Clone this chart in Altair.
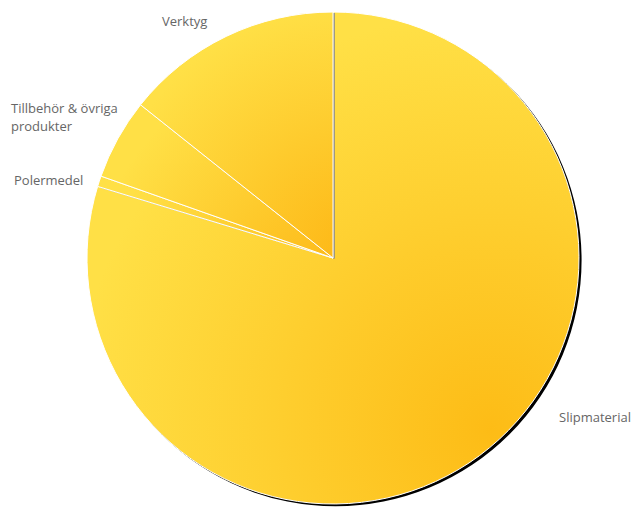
import altair as alt
import pandas as pd

categories = ["Slipmaterial", "Polermedel", "Tillbehör & övriga produkter", "Verktyg"]
shares = [79.7, 0.7, 5.3, 14.3]
order = [0, 1, 2, 3]

df = pd.DataFrame({"category": categories, "share": shares, "idx": order})

CX, CY, R = 333, 258, 246
YELLOW = "#FFE046"
ORANGE = "#FDB614"
FONT = "Open Sans"
TXT = "#666666"

base = alt.Chart(df).transform_window(
    end="sum(share)", sort=[alt.SortField("idx")], frame=[None, 0]
).transform_calculate(start="datum.end - datum.share")


def enc(dx=0, dy=0):
    return dict(
        theta=alt.Theta("start:Q", scale=alt.Scale(domain=[0, 100]), stack=None),
        theta2=alt.Theta2("end:Q"),
        x=alt.value(CX + dx),
        y=alt.value(CY + dy),
    )


def grad(cx, cy, r, inner, outer):
    return alt.Gradient(
        gradient="radial",
        stops=[alt.GradientStop(offset=0, color=inner), alt.GradientStop(offset=1, color=outer)],
        x1=cx, y1=cy, r1=0, x2=cx, y2=cy, r2=r,
    )


def one(cat):
    return base.transform_filter(alt.datum.category == cat)


# drop shadow under the whole pie
shadow = one(categories[0]).mark_arc(
    radius=R, theta=0, theta2=6.2832, fill="#000000"
).encode(x=alt.value(CX + 2.5), y=alt.value(CY + 2.3))

slip = one(categories[0]).mark_arc(
    radius=R, fill=grad(0.82, 0.85, 0.85, "#FDBC16", YELLOW), stroke="white", strokeWidth=1
).encode(**enc())

others = categories[1:]
small_shadows = base.transform_filter(
    alt.FieldOneOfPredicate(field="category", oneOf=others)
).mark_arc(radius=R, fill="#8a8a8a", opacity=0.8).encode(**enc(2, 1))

slice_layers = []
for cat in others:
    slice_layers.append(
        one(cat).mark_arc(
            radius=R, fill=grad(1.0, 1.0, 1.05, ORANGE, YELLOW), stroke="white", strokeWidth=1
        ).encode(**enc())
    )


def label(text, x, y, align="left"):
    return alt.Chart(df).transform_filter(alt.datum.idx == 0).mark_text(
        text=text, align=align, baseline="alphabetic", font=FONT, fontSize=13,
        color=TXT,
    ).encode(x=alt.value(x), y=alt.value(y))


labels = [
    label(categories[3], 162, 26),
    label("Tillbehör & övriga", 11, 113),
    label("produkter", 11, 131),
    label(categories[1], 14, 185),
    label(categories[0], 559, 422),
]

chart = alt.layer(shadow, slip, small_shadows, *slice_layers, *labels).properties(
    width=638, height=508, padding=0, autosize="none"
).configure_view(stroke=None)

chart.save("out.html", embed_options={"renderer": "svg", "actions": False})
